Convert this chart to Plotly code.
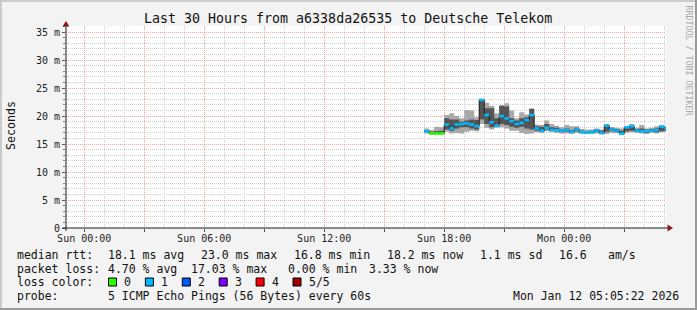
import plotly.graph_objects as go

# ---------------- data ----------------
start_hour = 17.0          # Sun 17:00, hours relative to Sun 00:00
step_hours = 0.25          # 15 minute steps
median = [17.3, 16.9, 16.9, 16.9, 18.5, 17.8, 18.5, 18.6, 18.7, 18.5, 18.2, 22.9, 20.2, 18.9, 18.3, 20.0,
          19.6, 19.1, 18.6, 18.8, 19.3, 20.2, 17.8, 17.4, 17.9, 17.5, 17.5, 17.4, 17.5, 17.2, 17.6, 17.1,
          17.1, 17.1, 17.4, 17.0, 18.3, 17.6, 17.4, 16.9, 18.0, 18.2, 17.4, 17.3, 17.3, 17.4, 17.5, 18.1, 17.8]
ping_min = [16.9, 16.7, 16.7, 16.7, 17.2, 16.9, 17.0, 16.9, 17.2, 17.4, 17.3, 18.6, 17.9, 17.6, 17.9, 18.0,
            17.8, 17.4, 17.4, 17.0, 16.8, 16.9, 17.1, 17.0, 17.3, 17.2, 17.0, 16.9, 16.9, 16.8, 17.0, 16.9,
            16.8, 16.9, 16.9, 16.7, 16.8, 17.0, 17.0, 16.6, 17.0, 17.1, 17.0, 16.9, 16.8, 17.0, 16.9, 17.1, 17.2]
ping_lo = [17.1, 16.8, 16.8, 16.9, 17.6, 17.4, 17.8, 18.0, 18.0, 17.8, 17.6, 19.4, 18.6, 18.0, 18.2, 18.6,
           18.4, 18.1, 17.9, 18.1, 17.8, 17.6, 17.4, 17.2, 17.6, 17.4, 17.3, 17.1, 17.2, 17.0, 17.3, 17.0,
           17.0, 17.0, 17.1, 16.9, 17.2, 17.3, 17.1, 16.8, 17.3, 17.4, 17.2, 17.1, 17.0, 17.2, 17.1, 17.3, 17.4]
ping_hi = [17.5, 17.2, 17.3, 17.4, 19.6, 19.4, 19.4, 19.0, 19.2, 19.4, 19.3, 22.9, 21.4, 21.4, 19.6, 21.8,
           21.7, 19.6, 19.2, 19.6, 19.8, 21.3, 18.2, 18.1, 18.6, 18.0, 17.9, 17.6, 17.8, 17.5, 17.9, 17.4,
           17.3, 17.4, 17.6, 17.4, 18.4, 17.9, 17.7, 17.4, 18.1, 18.3, 17.7, 17.8, 17.6, 17.7, 17.8, 18.2, 18.0]
ping_max = [17.8, 17.5, 18.1, 18.0, 20.2, 20.5, 20.0, 19.6, 21.1, 21.0, 19.8, 23.0, 22.4, 21.8, 20.5, 22.0,
            22.3, 21.0, 19.6, 20.7, 20.3, 21.3, 18.5, 18.4, 19.2, 18.6, 18.3, 18.0, 18.4, 18.2, 18.2, 17.7,
            17.6, 17.6, 17.8, 17.6, 18.6, 18.0, 17.9, 17.8, 18.2, 18.6, 17.9, 18.4, 17.8, 17.9, 18.2, 18.4, 18.2]
loss_count = [1, 0, 0, 0, 1, 1, 1, 1, 1, 1, 1, 1, 1, 1, 1, 1,
              1, 1, 1, 1, 1, 1, 1, 1, 1, 1, 1, 1, 1, 1, 1, 1,
              1, 1, 1, 1, 1, 1, 1, 1, 1, 1, 1, 1, 1, 1, 1, 1, 1]

loss_labels = ["0", "1", "2", "3", "4", "5/5"]
loss_colors = ["#26ff00", "#00b8ff", "#0059ff", "#7e00ff", "#ff0000", "#a00000"]

x_tick_vals = [0, 3, 6, 9, 12, 15, 18, 21, 24, 27]
x_tick_text = ["Sun 00:00", "", "Sun 06:00", "", "Sun 12:00", "", "Sun 18:00", "", "Mon 00:00", ""]
y_tick_vals = [0, 5, 10, 15, 20, 25, 30, 35]
y_tick_text = ["0", "5 m", "10 m", "15 m", "20 m", "25 m", "30 m", "35 m"]

title_text = "Last 30 Hours from a6338da26535 to Deutsche Telekom"
rtt_items = ["median rtt:", "18.1 ms avg", "23.0 ms max", "16.8 ms min", "18.2 ms now", "1.1 ms sd", "16.6", "am/s"]
loss_items = ["packet loss:", "4.70 % avg", "17.03 % max", "0.00 % min", "3.33 % now"]
probe_items = ["probe:", "5 ICMP Echo Pings (56 Bytes) every 60s"]
stamp_text = "Mon Jan 12 05:05:22 2026"

# ---------------- layout geometry ----------------
W, H = 697, 310
ML, MR, MT, MB = 66, 31, 26, 82
PW = W - ML - MR
PH = H - MT - MB
X_RANGE = [-0.9106, 29.0894]
Y_RANGE = [0, PH / 5.594]
FONT = "DejaVu Sans Mono"


def px(x):
    return (x - ML) / PW


def py(y):
    return (H - MB - y) / PH


n = len(median)
times = [start_hour + i * step_hours for i in range(n)]
edges = times + [times[-1] + step_hours]


def ext(v):
    return list(v) + [v[-1]]


fig = go.Figure()

# smoke: outer band (light), inner band (dark)
for lo, hi, col in [(ping_min, ping_max, "#a8a8a8"), (ping_lo, ping_hi, "#555555")]:
    fig.add_trace(go.Scatter(x=edges, y=ext(lo), mode="lines", line=dict(width=0, shape="hv"),
                             hoverinfo="skip", showlegend=False))
    fig.add_trace(go.Scatter(x=edges, y=ext(hi), mode="lines", line=dict(width=0, shape="hv"),
                             fill="tonexty", fillcolor=col, hoverinfo="skip", showlegend=False))

# thin dark median line
fig.add_trace(go.Scatter(x=edges, y=ext(median), mode="lines",
                         line=dict(width=1, color="#202020", shape="hv"),
                         hoverinfo="skip", showlegend=False))

# coloured median segments by loss
for k, col in enumerate(loss_colors):
    xs, ys = [], []
    for i in range(n):
        if loss_count[i] == k:
            xs += [edges[i], edges[i + 1], None]
            ys += [median[i], median[i], None]
    if xs:
        fig.add_trace(go.Scatter(x=xs, y=ys, mode="lines", line=dict(width=2.6, color=col),
                                 hoverinfo="skip", showlegend=False))

shapes = []
# frame shading
shapes.append(dict(type="rect", xref="paper", yref="paper", x0=px(0), x1=px(W), y0=py(0), y1=py(2),
                   fillcolor="#cbcbcb", line_width=0, layer="below"))
shapes.append(dict(type="rect", xref="paper", yref="paper", x0=px(0), x1=px(2), y0=py(0), y1=py(H),
                   fillcolor="#cbcbcb", line_width=0, layer="below"))
shapes.append(dict(type="rect", xref="paper", yref="paper", x0=px(W - 2), x1=px(W), y0=py(0), y1=py(H),
                   fillcolor="#999999", line_width=0, layer="below"))
shapes.append(dict(type="rect", xref="paper", yref="paper", x0=px(0), x1=px(W), y0=py(H - 2), y1=py(H),
                   fillcolor="#999999", line_width=0, layer="below"))
# axes with arrows
AX = "#1a1a1a"
ARROW = "#8b1a1a"
shapes.append(dict(type="line", xref="paper", yref="paper", x0=px(62.5), x1=px(668), y0=0, y1=0,
                   line=dict(color=AX, width=1)))
shapes.append(dict(type="line", xref="paper", yref="paper", x0=0, x1=0, y0=py(231), y1=py(26),
                   line=dict(color=AX, width=1)))
shapes.append(dict(type="path", xref="paper", yref="paper",
                   path=f"M {px(62.5)},{py(26.5)} L {px(69.5)},{py(26.5)} L {px(66)},{py(21)} Z",
                   fillcolor=ARROW, line=dict(width=0)))
shapes.append(dict(type="path", xref="paper", yref="paper",
                   path=f"M {px(667.5)},{py(224.5)} L {px(667.5)},{py(231.5)} L {px(673)},{py(228)} Z",
                   fillcolor=ARROW, line=dict(width=0)))

annotations = []


def txt(s, x, y, size=11.5, xanchor="left", color="#111111", angle=0):
    if xanchor == "left":
        x -= 1
    elif xanchor == "right":
        x += 1
    annotations.append(dict(text=s.replace(" ", "\u00a0"), x=px(x), y=py(y), xref="paper", yref="paper",
                            xanchor=xanchor, yanchor="middle", showarrow=False, textangle=angle,
                            font=dict(family=FONT, size=size, color=color)))


txt(title_text, 348, 19, size=13.3, xanchor="center")
txt("Seconds", 11, 126, size=11.6, xanchor="center", angle=-90)
txt("RRDTOOL / TOBI OETIKER", 688.5, 60, size=8.3, xanchor="center", color="#a8a8a8", angle=90)

rtt_x = [16, 107.3, 200, 293.3, 386.3, 479, 557.5, 607]
for s, x in zip(rtt_items, rtt_x):
    txt(s, x, 255)
loss_x = [16, 107.3, 190, 286.7, 367.5]
for s, x in zip(loss_items, loss_x):
    txt(s, x, 268.5)
txt("loss color:", 16, 282)
for k, (lab, col) in enumerate(zip(loss_labels, loss_colors)):
    bx = 108.5 + k * 36.9
    shapes.append(dict(type="rect", xref="paper", yref="paper", x0=px(bx), x1=px(bx + 8),
                       y0=py(286), y1=py(278), fillcolor=col, line=dict(color="#000000", width=1)))
    txt(lab, bx + 14.8, 282)
txt(probe_items[0], 16, 296)
txt(probe_items[1], 107.3, 296)
txt(stamp_text, 680.3, 296, xanchor="right")

GRID_MAJOR = "#f2a0a0"
GRID_MINOR = "#cfcfcf"

fig.update_layout(
    width=W, height=H,
    margin=dict(l=ML, r=MR, t=MT, b=MB, pad=0),
    paper_bgcolor="#f3f3f3", plot_bgcolor="#ffffff",
    showlegend=False,
    font=dict(family=FONT, size=10, color="#222222"),
    shapes=shapes, annotations=annotations,
    xaxis=dict(range=X_RANGE, tickmode="array", tickvals=x_tick_vals, ticktext=x_tick_text,
               showgrid=True, gridcolor=GRID_MAJOR, griddash="1px,1px", gridwidth=1,
               ticks="outside", ticklen=3, tickcolor="#555555", zeroline=False, showline=False,
               ticklabelstandoff=-2,
               tickfont=dict(family=FONT, size=10, color="#222222"),
               minor=dict(dtick=1, tick0=0, showgrid=True, gridcolor=GRID_MINOR, griddash="1px,1px",
                          ticks="", ticklen=2)),
    yaxis=dict(range=Y_RANGE, tickmode="array", tickvals=y_tick_vals, ticktext=y_tick_text,
               showgrid=True, gridcolor=GRID_MAJOR, griddash="1px,1px", gridwidth=1,
               ticks="outside", ticklen=3, tickcolor="#555555", zeroline=False, showline=False,
               tickfont=dict(family=FONT, size=10, color="#222222"),
               minor=dict(dtick=1, tick0=0, showgrid=True, gridcolor=GRID_MINOR, griddash="1px,1px",
                          ticks="outside", ticklen=2, tickcolor="#888888")),
)

fig.write_html("out.html")
